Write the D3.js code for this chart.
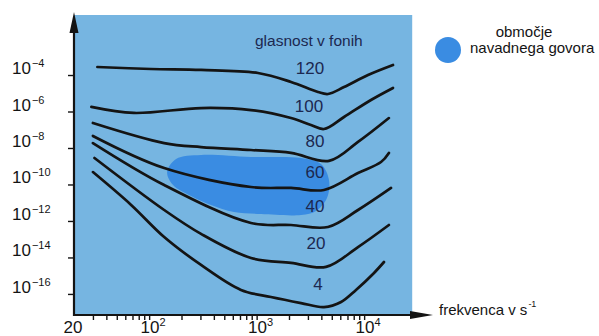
<!DOCTYPE html>
<html>
<head>
<meta charset="utf-8">
<script src="https://cdn.jsdelivr.net/npm/d3@7"></script>
<style>
  html, body { margin: 0; padding: 0; background: #fff; }
  svg { display: block; font-family: "Liberation Sans", Arial, Helvetica, sans-serif; }
</style>
</head>
<body>
<svg id="chart" width="599" height="336"></svg>
<script>
// ---- data (frequency in Hz, intensity as log10 of W/m^2) ----
const phonLevels = ["120", "100", "80", "60", "40", "20", "4"];
const curve120 = [[33,-3.56],[104,-3.67],[304,-3.72],[1030,-3.89],[2090,-4.38],[3720,-4.93],[4610,-5.04],[6500,-4.66],[10860,-4.0],[18550,-3.45]];
const curve100 = [[29,-5.75],[72,-6.08],[304,-5.81],[887,-5.92],[2090,-6.36],[3200,-6.74],[4230,-6.96],[6500,-6.30],[11580,-5.37],[18550,-4.71]];
const curve80  = [[30,-6.63],[138,-7.73],[304,-7.95],[887,-8.11],[2090,-8.27],[4710,-8.71],[8770,-7.67],[17000,-6.36]];
const curve60  = [[30,-7.34],[138,-9.10],[887,-10.14],[2090,-10.19],[4230,-10.30],[8770,-9.37],[14360,-8.77],[17000,-8.27]];
const curve40  = [[30,-7.73],[138,-10.03],[887,-12.11],[2090,-12.22],[4610,-12.33],[8770,-11.40],[17800,-10.19]];
const curve20  = [[31,-8.55],[138,-11.40],[304,-12.71],[887,-14.03],[2090,-14.30],[4420,-14.52],[8770,-13.43],[17000,-12.22]];
const curve4   = [[30,-9.32],[68,-11.12],[138,-12.88],[304,-14.41],[715,-15.78],[1360,-16.17],[2590,-16.50],[4230,-16.72],[6100,-16.44],[8400,-15.78],[12360,-14.85],[15300,-14.25]];
const curves = [curve120, curve100, curve80, curve60, curve40, curve20, curve4];
// label anchor for each curve: [freq, log10 I]
const labelAnchors = [[3140,-3.67],[3070,-5.75],[3490,-7.62],[3490,-9.37],[3490,-11.23],[3570,-13.21],[3720,-15.51]];
// speech region outline
const speechRegion = [[147,-9.32],[178,-8.60],[304,-8.38],[887,-8.49],[2590,-8.55],[3970,-8.88],[4710,-9.75],[4510,-10.74],[3570,-11.45],[2590,-11.67],[1100,-11.62],[615,-11.51],[376,-11.12],[245,-10.63],[167,-10.03]];
// ticks
const xMajorTicks = [20, 100, 1000, 10000];
const xMajorBase = ["20", "10", "10", "10"];
const xMajorSup = ["", "2", "3", "4"];
const yTicks = [-4, -6, -8, -10, -12, -14, -16];
const yTickSup = ["\u22124", "\u22126", "\u22128", "\u221210", "\u221212", "\u221214", "\u221216"];
const legendLines = ["območje", "navadnega govora"];
const seriesTitle = "glasnost v fonih";
const xTitle = "frekvenca v s";
const xTitleSup = "-1";

// ---- scales ----
const svg = d3.select("#chart");
const x = d3.scaleLog().domain([20, 28000]).range([74, 412.2]);
const y = d3.scaleLinear().domain([-17.1, -0.71]).range([314, 15]);

const panelColor = "#76b5e1";
const speechColor = "#3a8ce2";
const ink = "#141414";
const labelInk = "#1c2850";

// panel
svg.append("rect")
  .attr("x", x(20)).attr("y", y(-0.71))
  .attr("width", x(28000) - x(20)).attr("height", y(-17.1) - y(-0.71))
  .attr("fill", panelColor);

// speech region
svg.append("path")
  .datum(speechRegion)
  .attr("d", d3.line().x(d => x(d[0])).y(d => y(d[1])).curve(d3.curveCatmullRomClosed.alpha(0.5)))
  .attr("fill", speechColor);

// curves
const lineGen = d3.line().x(d => x(d[0])).y(d => y(d[1])).curve(d3.curveCatmullRom.alpha(0.5));
svg.append("g").selectAll("path").data(curves).join("path")
  .attr("d", lineGen)
  .attr("fill", "none").attr("stroke", ink).attr("stroke-width", 2.7)
  .attr("stroke-linecap", "round");

// curve labels
svg.append("g").selectAll("text").data(phonLevels).join("text")
  .attr("x", (d, i) => x(labelAnchors[i][0]))
  .attr("y", (d, i) => y(labelAnchors[i][1]))
  .attr("text-anchor", "middle").attr("dominant-baseline", "central")
  .attr("font-size", 17).attr("fill", labelInk)
  .text(d => d);

// series title
svg.append("text").attr("x", 255).attr("y", 46)
  .attr("font-size", 15.5).attr("fill", labelInk).text(seriesTitle);

// x axis with minor ticks
const minorTicks = x.ticks().filter(v => v >= 30 && v <= 10000);
const xAxis = d3.axisBottom(x).tickValues(minorTicks).tickSizeInner(5).tickSizeOuter(0).tickFormat("");
const axisY = y(-17.1) + 1;
const gx = svg.append("g").attr("transform", `translate(0,${axisY})`).call(xAxis);
gx.select(".domain").remove();
gx.selectAll(".tick line").attr("stroke", ink).attr("stroke-width", 1.4);
// x axis line + arrow
svg.append("line").attr("x1", x(20)).attr("x2", 422).attr("y1", axisY).attr("y2", axisY)
  .attr("stroke", ink).attr("stroke-width", 2.2);
svg.append("path").attr("d", `M433,${axisY}L410,${axisY - 4}L410,${axisY + 4}Z`).attr("fill", ink);

// x labels
const xl = svg.append("g").selectAll("text").data(xMajorTicks).join("text")
  .attr("x", (d, i) => x(d) + (i === 0 ? -1 : 4))
  .attr("y", 333)
  .attr("text-anchor", "middle").attr("font-size", 17).attr("fill", ink);
xl.append("tspan").text((d, i) => xMajorBase[i]);
xl.append("tspan").attr("dy", -7).attr("font-size", 11).text((d, i) => xMajorSup[i]);

// y axis
const yAxis = d3.axisLeft(y).tickValues(yTicks).tickSizeInner(6).tickSizeOuter(0).tickFormat("");
const gy = svg.append("g").attr("transform", `translate(${x(20)},0)`).call(yAxis);
gy.select(".domain").remove();
gy.selectAll(".tick line").attr("stroke", ink).attr("stroke-width", 1.4);
svg.append("line").attr("x1", x(20)).attr("x2", x(20)).attr("y1", axisY + 1).attr("y2", 25)
  .attr("stroke", ink).attr("stroke-width", 2.2);
svg.append("path").attr("d", `M${x(20)},12L${x(20) - 4.5},33L${x(20) + 4.5},33Z`).attr("fill", ink);

// y labels
const yl = svg.append("g").selectAll("text").data(yTicks).join("text")
  .attr("x", 12).attr("y", d => y(d) - 1)
  .attr("font-size", 17).attr("fill", ink);
yl.append("tspan").text("10");
yl.append("tspan").attr("dy", -7).attr("dx", 1).attr("font-size", 11).text((d, i) => yTickSup[i]);

// x title
const xt = svg.append("text").attr("x", 439).attr("y", 315).attr("font-size", 15).attr("fill", ink);
xt.append("tspan").text(xTitle);
xt.append("tspan").attr("dy", -8).attr("dx", 1).attr("font-size", 9).text(xTitleSup);

// legend
svg.append("circle").attr("cx", 448).attr("cy", 50).attr("r", 13).attr("fill", speechColor);
svg.append("text").attr("x", 524).attr("y", 37).attr("text-anchor", "middle")
  .attr("font-size", 15).attr("fill", ink).text(legendLines[0]);
svg.append("text").attr("x", 470).attr("y", 53)
  .attr("font-size", 15).attr("fill", ink).text(legendLines[1]);
</script>
</body>
</html>
